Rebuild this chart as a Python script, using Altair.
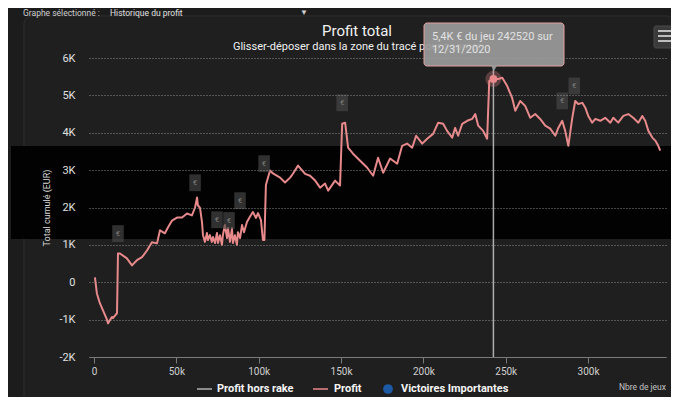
import altair as alt
import pandas as pd

# ---------------- data ----------------
games = [600, 1800, 3600, 5500, 7900, 8500, 10900, 11500, 14000, 14600,
         15800, 20000, 23100, 26100, 29200, 32200, 35200, 38300, 40100, 43100,
         45000, 47400, 50400, 53500, 56500, 59500, 61400, 62600, 63100, 64400,
         65600, 66200, 67400, 68600, 69200, 70400, 71600, 72300, 73500, 74700,
         75300, 76500, 77700, 78300, 79500, 80800, 81400, 82600, 83800, 84400,
         85600, 86800, 87400, 88700, 89900, 91100, 92900, 94700, 96500, 98400,
         99600, 101400, 102600, 103500, 104400,
         106900, 108700, 113000, 116000, 119100, 120900, 123900, 128200, 131200, 134300,
         137300, 140300, 142200, 146400, 149400, 150700, 152500, 154300, 157300, 161600,
         165800, 169500, 172500, 175600, 179800, 184100, 187100, 190100, 193200, 195600,
         199300, 202300, 205900, 209000, 212000, 214400, 217500, 219300, 221100, 223600,
         226600, 229600, 231500, 233300, 236300, 238700, 240000, 242520, 245400, 247900,
         250900, 253900, 255800, 258800, 261800, 264900, 267900, 270900, 274000, 277000,
         280100, 281900, 284300, 286100, 288000, 290400, 292200, 294000, 296500, 298300,
         300100, 302500, 304400, 307400, 310400, 313500, 315300, 318300, 321400, 324400,
         327400, 330500, 332900, 334700, 336600, 339000, 340800, 342600, 343800]
profit = [130, -300, -560, -750, -1000, -1100, -930, -960, -830, 770,
          770, 640, 450, 590, 670, 850, 1070, 1040, 1390, 1310,
          1470, 1650, 1730, 1730, 1840, 1790, 2000, 2270, 2060, 1990,
          1610, 1260, 1080, 1320, 1130, 1260, 1080, 1210, 1050, 1320,
          1050, 1260, 1000, 1260, 1530, 1180, 1450, 1080, 1450, 1050,
          1260, 1000, 1340, 1180, 1530, 1340, 1610, 1750, 1880, 1720,
          1850, 1660, 1130, 1130, 2600,
          2990, 2910, 2800, 2670, 2800, 2910, 3120, 2900, 2850, 2720,
          2530, 2640, 2450, 2720, 2590, 4240, 4270, 3600, 3440, 3250,
          3070, 2850, 3330, 2930, 3310, 3170, 3650, 3710, 3600, 3920,
          3710, 3840, 3970, 4270, 4240, 4050, 3870, 4130, 3920, 4240,
          4320, 4370, 4500, 4190, 4050, 3840, 5390, 5440, 5440, 5470,
          5250, 4930, 4590, 4850, 4720, 4400, 4500, 4370, 4190, 4110,
          3920, 4130, 4320, 4050, 3650, 4400, 4850, 4770, 4800, 4670,
          4450, 4270, 4370, 4320, 4400, 4270, 4400, 4270, 4450, 4500,
          4400, 4270, 4450, 4320, 4050, 3870, 3790, 3650, 3520]

flag_games = [14600, 61400, 74700, 82000, 88700, 103300, 150700, 284300, 291600]
flag_profit = [970, 2330, 1340, 1320, 1850, 2840, 4470, 4520, 4920]
flag_symbol = "€"

hover_game = [242520]
hover_profit = [5440]

header_label = "Graphe sélectionné :"
header_value = "Historique du profit"
header_arrow = "▼"
title_text = "Profit total"
subtitle_text = "Glisser-déposer dans la zone du tracé pour zoomer"
tooltip_lines = ["5,4K € du jeu 242520 sur", "12/31/2020"]
legend_labels = ["Profit hors rake", "Profit", "Victoires Importantes"]
y_title = "Total cumulé (EUR)"
x_title = "Nbre de jeux"
x_ticks = [0, 50000, 100000, 150000, 200000, 250000, 300000]
y_ticks = [-2000, -1000, 0, 1000, 2000, 3000, 4000, 5000, 6000]

# ---------------- chart ----------------
W, H = 577, 299
FONT = "Roboto"
PINK = "#e8898b"

df = pd.DataFrame({"g": games, "p": profit})
flags = pd.DataFrame({"g": flag_games, "p": flag_profit, "t": [flag_symbol] * len(flag_games)})
hover = pd.DataFrame({"g": hover_game, "p": hover_profit})

xs = alt.Scale(domain=[-3000, 347300], nice=False, zero=False)
ys = alt.Scale(domain=[-2000, 6000], nice=False, zero=False)

xaxis = alt.Axis(values=x_ticks, title=None, grid=False,
                 labelExpr="datum.value == 0 ? '0' : (datum.value/1000) + 'k'",
                 domainColor="#7a7a7a", tickColor="#7a7a7a", tickSize=6,
                 labelColor="#cfcfcf", labelFontSize=10, labelFont=FONT,
                 labelPadding=3, zindex=1)
yaxis = alt.Axis(values=y_ticks, title=y_title,
                 labelExpr="datum.value == 0 ? '0' : (datum.value/1000) + 'K'",
                 titleColor="#d8d8d8", titleFontSize=9, titleFontWeight="normal",
                 titleFont=FONT, titlePadding=7,
                 grid=True, gridColor="#a0a0a0", gridDash=[1, 2], gridOpacity=0.85,
                 domain=False, ticks=False, labelPadding=14,
                 labelColor="#e0e0e0", labelFontSize=11, labelFont=FONT, zindex=1)

X = alt.X("g:Q", scale=xs, axis=xaxis)
Y = alt.Y("p:Q", scale=ys, axis=yaxis)


def one(v="x"):
    return pd.DataFrame({"t": [v]})


def txt(s, x, y, size, color, weight="normal", align="left", baseline="middle", angle=0):
    return alt.Chart(one(s)).mark_text(
        align=align, baseline=baseline, fontSize=size, font=FONT,
        fontWeight=weight, color=color, angle=angle
    ).encode(x=alt.value(x), y=alt.value(y), text="t:N")


def box(x1, x2, y1, y2, **kw):
    return alt.Chart(one()).mark_rect(**kw).encode(
        x=alt.value(x1), x2=alt.value(x2), y=alt.value(y1), y2=alt.value(y2))


def hline(x1, x2, y, color, width):
    return alt.Chart(one()).mark_rule(color=color, strokeWidth=width).encode(
        x=alt.value(x1), x2=alt.value(x2), y=alt.value(y))


panel = box(-65, 586, -42, 350, fill="#1f1f1f", stroke="#2e2e2e", strokeWidth=1, cornerRadius=8)
band = box(-78, 600, 88, 181, fill="#020202")

line = alt.Chart(df).mark_line(color=PINK, strokeWidth=2, strokeJoin="round").encode(
    x=X, y=Y, order="g:Q")

flag_shape = "M-0.72,-2.6H0.72V-0.5H-0.72Z"
flag_boxes = alt.Chart(flags).mark_point(
    shape=flag_shape, size=256, filled=True, fill="#4a4a4a", fillOpacity=0.65, strokeWidth=0
).encode(x=X, y=Y)
flag_text = alt.Chart(flags).mark_text(
    fontSize=8, font=FONT, color="#7a7a7a", yOffset=-12
).encode(x=X, y=Y, text="t:N")

cross = alt.Chart(hover).mark_rule(color="#bdbdbd", strokeWidth=1.5, opacity=0.9).encode(
    x=X, y=alt.value(8), y2=alt.value(H))
halo = alt.Chart(hover).mark_circle(size=260, color=PINK, opacity=0.3).encode(x=X, y=Y)
dot = alt.Chart(hover).mark_circle(size=60, color=PINK, opacity=1).encode(x=X, y=Y)

title = txt(title_text, 268, -27, 15, "#f2f2f2", align="center")
subtitle = txt(subtitle_text, 268, -11, 11, "#f0f0f0", align="center")

tip_box = box(335, 475, -35, 8, fill="#9a9a9a", fillOpacity=0.93, stroke="#e3a0a0",
              strokeWidth=1, cornerRadius=3)
tip_ptr = alt.Chart(one()).mark_point(shape="triangle-down", size=45, filled=True,
                                      fill="#9a9a9a", opacity=0.93).encode(
    x=alt.value(405), y=alt.value(10))
tip1 = txt(tooltip_lines[0], 343, -21, 11, "#e2e2e2")
tip2 = txt(tooltip_lines[1], 343, -8, 11, "#e2e2e2")

menu = box(565, 587, -32, -10, fill="#3a3a3a", stroke="#4a4a4a", strokeWidth=1, cornerRadius=2)
menu_lines = [hline(569, 583, yy, "#bdbdbd", 2) for yy in (-27, -22, -17)]

header1 = txt(header_label, -66, -49, 8.5, "#cfcfcf", baseline="top")
header2 = txt(header_value, 21, -49, 8.5, "#e0e0e0", baseline="top")
header3 = txt(header_arrow, 211, -49, 8, "#cfcfcf", baseline="top")

leg1_sym = hline(108, 123, 331, "#b0b0b0", 1.5)
leg1_txt = txt(legend_labels[0], 128, 331, 11, "#f4f4f4", weight="bold")
leg2_sym = hline(224, 239, 331, PINK, 1.5)
leg2_txt = txt(legend_labels[1], 245, 331, 11, "#f4f4f4", weight="bold")
leg3_sym = alt.Chart(one()).mark_circle(size=95, color="#1c5aa6", opacity=1).encode(
    x=alt.value(299), y=alt.value(331))
leg3_txt = txt(legend_labels[2], 312, 331, 11, "#f4f4f4", weight="bold")
xtitle = txt(x_title, 577, 329, 8.5, "#c4c4c4", align="right")

chart = alt.layer(
    panel, band, line, flag_boxes, flag_text, cross, halo, dot,
    title, subtitle, tip_box, tip_ptr, tip1, tip2,
    menu, *menu_lines, header1, header2, header3,
    leg1_sym, leg1_txt, leg2_sym, leg2_txt, leg3_sym, leg3_txt, xtitle
).properties(
    width=W, height=H,
    padding={"left": 81, "top": 50, "right": 5, "bottom": 40},
    autosize=alt.AutoSizeParams(type="none"),
).configure(background="#1c1c1c").configure_view(strokeWidth=0)

chart.save("out.html", embed_options={"renderer": "svg", "actions": False})
